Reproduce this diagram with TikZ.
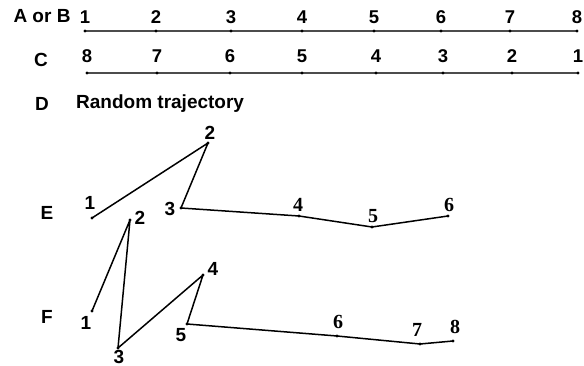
\documentclass[tikz,border=0pt]{standalone}
\usepackage{fontspec}
\setmainfont{Liberation Sans}
\newfontfamily\serifb{Liberation Serif}
\begin{document}
\begin{tikzpicture}[x=1pt,y=-1pt,
  lbl/.style={font=\bfseries\fontsize{19}{21}\selectfont, inner sep=0pt},
  num/.style={font=\bfseries\fontsize{18.5}{20}\selectfont, inner sep=0pt},
  snum/.style={font=\serifb\bfseries\fontsize{20}{22}\selectfont, inner sep=0pt},
  axisline/.style={line width=1.8pt, draw=black!70},
  traj/.style={line width=1.5pt, line join=round},
  dot/.style={circle, fill=black, inner sep=0pt, minimum size=3.2pt}]
\useasboundingbox (0,0) rectangle (584,366);
% Row A or B
\node[lbl] (lab) at (42,16) {A or B};
\foreach \i/\x in {1/85,2/156,3/231,4/302,5/374,6/441,7/510,8/577}{
  \coordinate (a\i) at (\x,31);
  \node[num] (an\i) at (\x,17) {\i};
}
\draw[axisline] (a1) -- (a8);
\foreach \i in {1,...,8}{\node[dot] (ad\i) at (a\i) {};}
% Row C
\node[lbl] (lc) at (41,60) {C};
\foreach \i/\x/\t in {1/87/8,2/157/7,3/230/6,4/302/5,5/376/4,6/443/3,7/512/2,8/578/1}{
  \coordinate (c\i) at (\x,73);
  \node[num] (cn\i) at (\x,56) {\t};
}
\draw[axisline] (c1) -- (c8);
\foreach \i in {1,...,8}{\node[dot] (cd\i) at (c\i) {};}
% Row D
\node[lbl] (ld) at (42,104) {D};
\node[lbl, anchor=west] (rt) at (76,104) {Random trajectory};
% Row E
\node[lbl] (le) at (47,213) {E};
\coordinate (e1) at (92,218);
\coordinate (e2) at (208,143);
\coordinate (e3) at (181,208);
\coordinate (e4) at (299,216);
\coordinate (e5) at (372,227);
\coordinate (e6) at (448,216);
\draw[traj] (e1) -- (e2) -- (e3) -- (e4) -- (e5) -- (e6);
\foreach \i in {1,...,6}{\node[dot] (ed\i) at (e\i) {};}
\node[lbl] (el1) at (90,203) {1};
\node[lbl] (el2) at (210,133) {2};
\node[lbl] (el3) at (170,209) {3};
\node[snum] (el4) at (298,205) {4};
\node[snum] (el5) at (373,216) {5};
\node[snum] (el6) at (449,205) {6};
% Row F
\node[lbl] (lf) at (47,317) {F};
\coordinate (f1) at (92,311);
\coordinate (f2) at (130,220);
\coordinate (f3) at (118,348);
\coordinate (f4) at (203,275);
\coordinate (f5) at (187,324);
\coordinate (f6) at (337,336);
\coordinate (f7) at (420,344);
\coordinate (f8) at (453,341);
\draw[traj] (f1) -- (f2) -- (f3) -- (f4) -- (f5) -- (f6) -- (f7) -- (f8);
\foreach \i in {1,...,8}{\node[dot] (fd\i) at (f\i) {};}
\node[lbl] (fl1) at (86,323) {1};
\node[lbl] (fl2) at (140,218) {2};
\node[lbl] (fl3) at (119,357) {3};
\node[lbl] (fl4) at (213,269) {4};
\node[lbl] (fl5) at (181,335) {5};
\node[snum] (fl6) at (338,322) {6};
\node[snum] (fl7) at (417,330) {7};
\node[snum] (fl8) at (455,327) {8};
\end{tikzpicture}
\end{document}
